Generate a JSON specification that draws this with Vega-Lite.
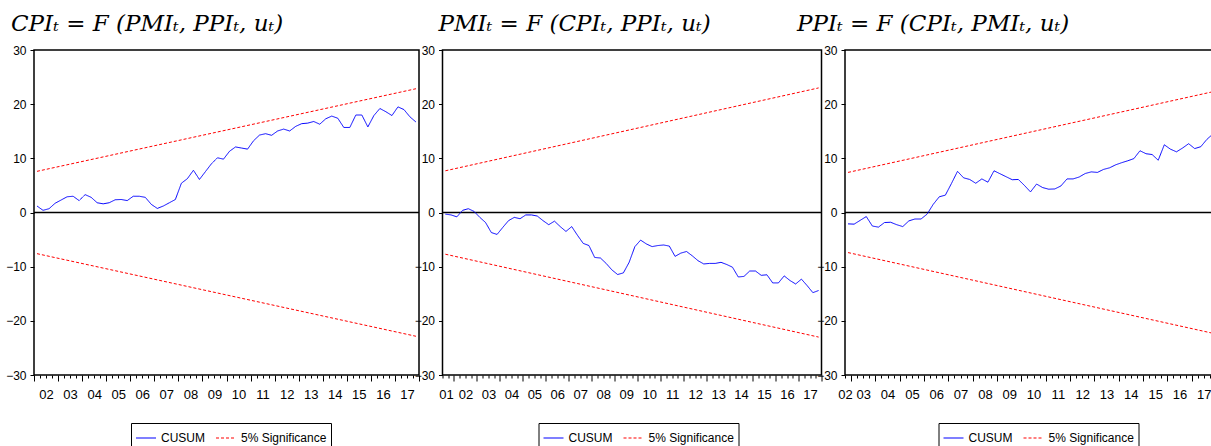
{
"$schema": "https://vega.github.io/schema/vega-lite/v6.json",
"padding": {"left": 4, "top": 12, "right": 0, "bottom": 0},
"bounds": "flush",
"spacing": 23.5,
"background": "white",
"config": {
  "view": {"stroke": "black", "strokeWidth": 1.5},
  "axis": {"grid": false, "domain": false, "tickColor": "black", "labelColor": "black", "labelFont": "Liberation Sans Narrow, Liberation Sans, Arial, sans-serif"},
  "axisY": {"tickSize": 4, "labelPadding": 4, "labelFontSize": 12},
  "axisX": {"labelFontSize": 13, "labelPadding": 10, "labelFlush": false, "labelOverlap": false},
  "legend": {"strokeColor": "black", "fillColor": "white", "padding": 4, "labelFontSize": 12, "labelFont": "Liberation Sans Narrow, Liberation Sans, Arial, sans-serif", "labelColor": "black", "symbolType": "stroke", "symbolSize": 400, "symbolStrokeWidth": 1.2, "labelOffset": 4, "columnPadding": 8},
  "title": {"anchor": "start", "frame": "group", "font": "DejaVu Serif", "fontStyle": "italic", "fontSize": 23, "fontWeight": "normal", "color": "black", "offset": 8}
},
"resolve": {"scale": {"x": "independent", "y": "independent", "color": "independent", "strokeDash": "independent"}, "legend": {"color": "independent", "strokeDash": "independent"}},
"hconcat": [
{
  "width": 385, "height": 325,
  "title": {"text": "CPIₜ = F (PMIₜ, PPIₜ, uₜ)", "dx": -23},
  "layer": [
    {"data": {"values": [{"z": 0}]}, "mark": {"type": "rule", "color": "black", "strokeWidth": 1.5},
     "encoding": {"y": {"field": "z", "type": "quantitative", "scale": {"domain": [-30, 30], "nice": false}, "axis": {"title": null, "values": [-30,-20,-10,0,10,20,30]}}}},
    {"data": {"values": [
      {"t":2002.125,"v":1.2,"s":"CUSUM","g":"c"},{"t":2002.375,"v":0.4,"s":"CUSUM","g":"c"},{"t":2002.625,"v":0.7,"s":"CUSUM","g":"c"},{"t":2002.875,"v":1.7,"s":"CUSUM","g":"c"},
      {"t":2003.125,"v":2.3,"s":"CUSUM","g":"c"},{"t":2003.375,"v":2.9,"s":"CUSUM","g":"c"},{"t":2003.625,"v":3.0,"s":"CUSUM","g":"c"},{"t":2003.875,"v":2.2,"s":"CUSUM","g":"c"},
      {"t":2004.125,"v":3.3,"s":"CUSUM","g":"c"},{"t":2004.375,"v":2.8,"s":"CUSUM","g":"c"},{"t":2004.625,"v":1.8,"s":"CUSUM","g":"c"},{"t":2004.875,"v":1.6,"s":"CUSUM","g":"c"},
      {"t":2005.125,"v":1.8,"s":"CUSUM","g":"c"},{"t":2005.375,"v":2.35,"s":"CUSUM","g":"c"},{"t":2005.625,"v":2.4,"s":"CUSUM","g":"c"},{"t":2005.875,"v":2.2,"s":"CUSUM","g":"c"},
      {"t":2006.125,"v":3.0,"s":"CUSUM","g":"c"},{"t":2006.375,"v":3.0,"s":"CUSUM","g":"c"},{"t":2006.625,"v":2.8,"s":"CUSUM","g":"c"},{"t":2006.875,"v":1.5,"s":"CUSUM","g":"c"},
      {"t":2007.125,"v":0.75,"s":"CUSUM","g":"c"},{"t":2007.375,"v":1.2,"s":"CUSUM","g":"c"},{"t":2007.625,"v":1.8,"s":"CUSUM","g":"c"},{"t":2007.875,"v":2.4,"s":"CUSUM","g":"c"},
      {"t":2008.125,"v":5.4,"s":"CUSUM","g":"c"},{"t":2008.375,"v":6.25,"s":"CUSUM","g":"c"},{"t":2008.625,"v":7.8,"s":"CUSUM","g":"c"},{"t":2008.875,"v":6.1,"s":"CUSUM","g":"c"},
      {"t":2009.125,"v":7.55,"s":"CUSUM","g":"c"},{"t":2009.375,"v":9.0,"s":"CUSUM","g":"c"},{"t":2009.625,"v":10.1,"s":"CUSUM","g":"c"},{"t":2009.875,"v":9.85,"s":"CUSUM","g":"c"},
      {"t":2010.125,"v":11.3,"s":"CUSUM","g":"c"},{"t":2010.375,"v":12.1,"s":"CUSUM","g":"c"},{"t":2010.625,"v":11.9,"s":"CUSUM","g":"c"},{"t":2010.875,"v":11.7,"s":"CUSUM","g":"c"},
      {"t":2011.125,"v":13.25,"s":"CUSUM","g":"c"},{"t":2011.375,"v":14.3,"s":"CUSUM","g":"c"},{"t":2011.625,"v":14.55,"s":"CUSUM","g":"c"},{"t":2011.875,"v":14.25,"s":"CUSUM","g":"c"},
      {"t":2012.125,"v":15.05,"s":"CUSUM","g":"c"},{"t":2012.375,"v":15.4,"s":"CUSUM","g":"c"},{"t":2012.625,"v":15.05,"s":"CUSUM","g":"c"},{"t":2012.875,"v":15.9,"s":"CUSUM","g":"c"},
      {"t":2013.125,"v":16.4,"s":"CUSUM","g":"c"},{"t":2013.375,"v":16.5,"s":"CUSUM","g":"c"},{"t":2013.625,"v":16.8,"s":"CUSUM","g":"c"},{"t":2013.875,"v":16.3,"s":"CUSUM","g":"c"},
      {"t":2014.125,"v":17.3,"s":"CUSUM","g":"c"},{"t":2014.375,"v":17.8,"s":"CUSUM","g":"c"},{"t":2014.625,"v":17.4,"s":"CUSUM","g":"c"},{"t":2014.875,"v":15.7,"s":"CUSUM","g":"c"},
      {"t":2015.125,"v":15.7,"s":"CUSUM","g":"c"},{"t":2015.375,"v":18.0,"s":"CUSUM","g":"c"},{"t":2015.625,"v":18.0,"s":"CUSUM","g":"c"},{"t":2015.875,"v":15.8,"s":"CUSUM","g":"c"},
      {"t":2016.125,"v":17.9,"s":"CUSUM","g":"c"},{"t":2016.375,"v":19.2,"s":"CUSUM","g":"c"},{"t":2016.625,"v":18.6,"s":"CUSUM","g":"c"},{"t":2016.875,"v":17.9,"s":"CUSUM","g":"c"},
      {"t":2017.125,"v":19.5,"s":"CUSUM","g":"c"},{"t":2017.375,"v":19.0,"s":"CUSUM","g":"c"},{"t":2017.625,"v":17.65,"s":"CUSUM","g":"c"},{"t":2017.875,"v":16.7,"s":"CUSUM","g":"c"},
      {"t":2002.125,"v":7.6,"s":"5% Significance","g":"u"},{"t":2017.875,"v":22.85,"s":"5% Significance","g":"u"},
      {"t":2002.125,"v":-7.6,"s":"5% Significance","g":"l"},{"t":2017.875,"v":-22.85,"s":"5% Significance","g":"l"}
    ]},
     "mark": {"type": "line", "strokeWidth": 1},
     "encoding": {
       "x": {"field": "t", "type": "quantitative", "scale": {"domain": [2002, 2018], "nice": false, "zero": false},
         "axis": {"title": null,
           "values": [2002,2002.25,2002.5,2002.75,2003,2003.25,2003.5,2003.75,2004,2004.25,2004.5,2004.75,2005,2005.25,2005.5,2005.75,2006,2006.25,2006.5,2006.75,2007,2007.25,2007.5,2007.75,2008,2008.25,2008.5,2008.75,2009,2009.25,2009.5,2009.75,2010,2010.25,2010.5,2010.75,2011,2011.25,2011.5,2011.75,2012,2012.25,2012.5,2012.75,2013,2013.25,2013.5,2013.75,2014,2014.25,2014.5,2014.75,2015,2015.25,2015.5,2015.75,2016,2016.25,2016.5,2016.75,2017,2017.25,2017.5,2017.75,2018],
           "labelExpr": "datum.value % 1 == 0.5 ? substring(toString(floor(datum.value)), 2, 4) : ''",
           "tickSize": {"condition": {"test": "datum.value % 1 == 0", "value": 6}, "value": 3}}},
       "y": {"field": "v", "type": "quantitative", "scale": {"domain": [-30, 30], "nice": false}, "axis": {"title": null, "values": [-30,-20,-10,0,10,20,30]}},
       "color": {"field": "s", "type": "nominal", "scale": {"domain": ["CUSUM", "5% Significance"], "range": ["#0000ff", "#ff0000"]}, "legend": {"title": null, "orient": "none", "legendX": 97, "legendY": 373, "direction": "horizontal"}},
       "strokeDash": {"field": "s", "type": "nominal", "scale": {"domain": ["CUSUM", "5% Significance"], "range": [[1, 0], [3, 2]]}, "legend": {"title": null, "orient": "none", "legendX": 97, "legendY": 373, "direction": "horizontal"}},
       "detail": {"field": "g"}
     }}
  ]
},
{
  "width": 379, "height": 325,
  "title": {"text": "PMIₜ = F (CPIₜ, PPIₜ, uₜ)", "dx": -4},
  "layer": [
    {"data": {"values": [{"z": 0}]}, "mark": {"type": "rule", "color": "black", "strokeWidth": 1.5},
     "encoding": {"y": {"field": "z", "type": "quantitative", "scale": {"domain": [-30, 30], "nice": false}, "axis": {"title": null, "values": [-30,-20,-10,0,10,20,30]}}}},
    {"data": {"values": [
      {"t":2001.625,"v":-0.3,"s":"CUSUM","g":"c"},{"t":2001.875,"v":-0.45,"s":"CUSUM","g":"c"},
      {"t":2002.125,"v":-0.8,"s":"CUSUM","g":"c"},{"t":2002.375,"v":0.4,"s":"CUSUM","g":"c"},{"t":2002.625,"v":0.7,"s":"CUSUM","g":"c"},{"t":2002.875,"v":0.2,"s":"CUSUM","g":"c"},
      {"t":2003.125,"v":-0.9,"s":"CUSUM","g":"c"},{"t":2003.375,"v":-1.85,"s":"CUSUM","g":"c"},{"t":2003.625,"v":-3.7,"s":"CUSUM","g":"c"},{"t":2003.875,"v":-4.05,"s":"CUSUM","g":"c"},
      {"t":2004.125,"v":-2.75,"s":"CUSUM","g":"c"},{"t":2004.375,"v":-1.5,"s":"CUSUM","g":"c"},{"t":2004.625,"v":-0.9,"s":"CUSUM","g":"c"},{"t":2004.875,"v":-1.15,"s":"CUSUM","g":"c"},
      {"t":2005.125,"v":-0.45,"s":"CUSUM","g":"c"},{"t":2005.375,"v":-0.45,"s":"CUSUM","g":"c"},{"t":2005.625,"v":-0.65,"s":"CUSUM","g":"c"},{"t":2005.875,"v":-1.5,"s":"CUSUM","g":"c"},
      {"t":2006.125,"v":-2.25,"s":"CUSUM","g":"c"},{"t":2006.375,"v":-1.6,"s":"CUSUM","g":"c"},{"t":2006.625,"v":-2.6,"s":"CUSUM","g":"c"},{"t":2006.875,"v":-3.5,"s":"CUSUM","g":"c"},
      {"t":2007.125,"v":-2.6,"s":"CUSUM","g":"c"},{"t":2007.375,"v":-4.2,"s":"CUSUM","g":"c"},{"t":2007.625,"v":-5.7,"s":"CUSUM","g":"c"},{"t":2007.875,"v":-6.1,"s":"CUSUM","g":"c"},
      {"t":2008.125,"v":-8.3,"s":"CUSUM","g":"c"},{"t":2008.375,"v":-8.4,"s":"CUSUM","g":"c"},{"t":2008.625,"v":-9.4,"s":"CUSUM","g":"c"},{"t":2008.875,"v":-10.6,"s":"CUSUM","g":"c"},
      {"t":2009.125,"v":-11.45,"s":"CUSUM","g":"c"},{"t":2009.375,"v":-11.15,"s":"CUSUM","g":"c"},{"t":2009.625,"v":-9.2,"s":"CUSUM","g":"c"},{"t":2009.875,"v":-6.3,"s":"CUSUM","g":"c"},
      {"t":2010.125,"v":-5.1,"s":"CUSUM","g":"c"},{"t":2010.375,"v":-5.8,"s":"CUSUM","g":"c"},{"t":2010.625,"v":-6.3,"s":"CUSUM","g":"c"},{"t":2010.875,"v":-6.1,"s":"CUSUM","g":"c"},
      {"t":2011.125,"v":-6.0,"s":"CUSUM","g":"c"},{"t":2011.375,"v":-6.2,"s":"CUSUM","g":"c"},{"t":2011.625,"v":-8.1,"s":"CUSUM","g":"c"},{"t":2011.875,"v":-7.5,"s":"CUSUM","g":"c"},
      {"t":2012.125,"v":-7.2,"s":"CUSUM","g":"c"},{"t":2012.375,"v":-8.0,"s":"CUSUM","g":"c"},{"t":2012.625,"v":-8.9,"s":"CUSUM","g":"c"},{"t":2012.875,"v":-9.5,"s":"CUSUM","g":"c"},
      {"t":2013.125,"v":-9.4,"s":"CUSUM","g":"c"},{"t":2013.375,"v":-9.4,"s":"CUSUM","g":"c"},{"t":2013.625,"v":-9.2,"s":"CUSUM","g":"c"},{"t":2013.875,"v":-9.6,"s":"CUSUM","g":"c"},
      {"t":2014.125,"v":-10.1,"s":"CUSUM","g":"c"},{"t":2014.375,"v":-11.9,"s":"CUSUM","g":"c"},{"t":2014.625,"v":-11.8,"s":"CUSUM","g":"c"},{"t":2014.875,"v":-10.8,"s":"CUSUM","g":"c"},
      {"t":2015.125,"v":-10.8,"s":"CUSUM","g":"c"},{"t":2015.375,"v":-11.6,"s":"CUSUM","g":"c"},{"t":2015.625,"v":-11.5,"s":"CUSUM","g":"c"},{"t":2015.875,"v":-13.0,"s":"CUSUM","g":"c"},
      {"t":2016.125,"v":-13.0,"s":"CUSUM","g":"c"},{"t":2016.375,"v":-11.7,"s":"CUSUM","g":"c"},{"t":2016.625,"v":-12.55,"s":"CUSUM","g":"c"},{"t":2016.875,"v":-13.2,"s":"CUSUM","g":"c"},
      {"t":2017.125,"v":-12.3,"s":"CUSUM","g":"c"},{"t":2017.375,"v":-13.5,"s":"CUSUM","g":"c"},{"t":2017.625,"v":-14.8,"s":"CUSUM","g":"c"},{"t":2017.875,"v":-14.4,"s":"CUSUM","g":"c"},
      {"t":2001.625,"v":7.7,"s":"5% Significance","g":"u"},{"t":2017.875,"v":23.0,"s":"5% Significance","g":"u"},
      {"t":2001.625,"v":-7.7,"s":"5% Significance","g":"l"},{"t":2017.875,"v":-23.0,"s":"5% Significance","g":"l"}
    ]},
     "mark": {"type": "line", "strokeWidth": 1},
     "encoding": {
       "x": {"field": "t", "type": "quantitative", "scale": {"domain": [2001.5, 2018], "nice": false, "zero": false},
         "axis": {"title": null,
           "values": [2001.5,2001.65,2001.75,2002,2002.25,2002.5,2002.75,2003,2003.25,2003.5,2003.75,2004,2004.25,2004.5,2004.75,2005,2005.25,2005.5,2005.75,2006,2006.25,2006.5,2006.75,2007,2007.25,2007.5,2007.75,2008,2008.25,2008.5,2008.75,2009,2009.25,2009.5,2009.75,2010,2010.25,2010.5,2010.75,2011,2011.25,2011.5,2011.75,2012,2012.25,2012.5,2012.75,2013,2013.25,2013.5,2013.75,2014,2014.25,2014.5,2014.75,2015,2015.25,2015.5,2015.75,2016,2016.25,2016.5,2016.75,2017,2017.25,2017.5,2017.75,2018],
           "labelExpr": "((datum.value >= 2002 && datum.value % 1 == 0.5) || datum.value == 2001.65) ? substring(toString(floor(datum.value)), 2, 4) : ''",
           "tickOpacity": {"condition": {"test": "datum.value % 0.25 != 0", "value": 0}, "value": 1},
           "tickSize": {"condition": {"test": "datum.value % 1 == 0", "value": 6}, "value": 3}}},
       "y": {"field": "v", "type": "quantitative", "scale": {"domain": [-30, 30], "nice": false}, "axis": {"title": null, "values": [-30,-20,-10,0,10,20,30]}},
       "color": {"field": "s", "type": "nominal", "scale": {"domain": ["CUSUM", "5% Significance"], "range": ["#0000ff", "#ff0000"]}, "legend": {"title": null, "orient": "none", "legendX": 96, "legendY": 373, "direction": "horizontal"}},
       "strokeDash": {"field": "s", "type": "nominal", "scale": {"domain": ["CUSUM", "5% Significance"], "range": [[1, 0], [3, 2]]}, "legend": {"title": null, "orient": "none", "legendX": 96, "legendY": 373, "direction": "horizontal"}},
       "detail": {"field": "g"}
     }}
  ]
},
{
  "width": 371, "height": 325,
  "title": {"text": "PPIₜ = F (CPIₜ, PMIₜ, uₜ)", "dx": -48},
  "layer": [
    {"data": {"values": [{"z": 0}]}, "mark": {"type": "rule", "color": "black", "strokeWidth": 1.5},
     "encoding": {"y": {"field": "z", "type": "quantitative", "scale": {"domain": [-30, 30], "nice": false}, "axis": {"title": null, "values": [-30,-20,-10,0,10,20,30]}}}},
    {"data": {"values": [
      {"t":2002.875,"v":-2.1,"s":"CUSUM","g":"c"},
      {"t":2003.125,"v":-2.15,"s":"CUSUM","g":"c"},{"t":2003.375,"v":-1.45,"s":"CUSUM","g":"c"},{"t":2003.625,"v":-0.75,"s":"CUSUM","g":"c"},{"t":2003.875,"v":-2.5,"s":"CUSUM","g":"c"},
      {"t":2004.125,"v":-2.7,"s":"CUSUM","g":"c"},{"t":2004.375,"v":-1.85,"s":"CUSUM","g":"c"},{"t":2004.625,"v":-1.8,"s":"CUSUM","g":"c"},{"t":2004.875,"v":-2.25,"s":"CUSUM","g":"c"},
      {"t":2005.125,"v":-2.6,"s":"CUSUM","g":"c"},{"t":2005.375,"v":-1.55,"s":"CUSUM","g":"c"},{"t":2005.625,"v":-1.2,"s":"CUSUM","g":"c"},{"t":2005.875,"v":-1.2,"s":"CUSUM","g":"c"},
      {"t":2006.125,"v":-0.3,"s":"CUSUM","g":"c"},{"t":2006.375,"v":1.5,"s":"CUSUM","g":"c"},{"t":2006.625,"v":2.9,"s":"CUSUM","g":"c"},{"t":2006.875,"v":3.2,"s":"CUSUM","g":"c"},
      {"t":2007.125,"v":5.35,"s":"CUSUM","g":"c"},{"t":2007.375,"v":7.6,"s":"CUSUM","g":"c"},{"t":2007.625,"v":6.4,"s":"CUSUM","g":"c"},{"t":2007.875,"v":6.1,"s":"CUSUM","g":"c"},
      {"t":2008.125,"v":5.4,"s":"CUSUM","g":"c"},{"t":2008.375,"v":6.2,"s":"CUSUM","g":"c"},{"t":2008.625,"v":5.6,"s":"CUSUM","g":"c"},{"t":2008.875,"v":7.7,"s":"CUSUM","g":"c"},
      {"t":2009.125,"v":7.15,"s":"CUSUM","g":"c"},{"t":2009.375,"v":6.6,"s":"CUSUM","g":"c"},{"t":2009.625,"v":6.05,"s":"CUSUM","g":"c"},{"t":2009.875,"v":6.1,"s":"CUSUM","g":"c"},
      {"t":2010.125,"v":5.0,"s":"CUSUM","g":"c"},{"t":2010.375,"v":3.8,"s":"CUSUM","g":"c"},{"t":2010.625,"v":5.25,"s":"CUSUM","g":"c"},{"t":2010.875,"v":4.6,"s":"CUSUM","g":"c"},
      {"t":2011.125,"v":4.3,"s":"CUSUM","g":"c"},{"t":2011.375,"v":4.35,"s":"CUSUM","g":"c"},{"t":2011.625,"v":4.9,"s":"CUSUM","g":"c"},{"t":2011.875,"v":6.2,"s":"CUSUM","g":"c"},
      {"t":2012.125,"v":6.2,"s":"CUSUM","g":"c"},{"t":2012.375,"v":6.55,"s":"CUSUM","g":"c"},{"t":2012.625,"v":7.2,"s":"CUSUM","g":"c"},{"t":2012.875,"v":7.5,"s":"CUSUM","g":"c"},
      {"t":2013.125,"v":7.4,"s":"CUSUM","g":"c"},{"t":2013.375,"v":7.95,"s":"CUSUM","g":"c"},{"t":2013.625,"v":8.25,"s":"CUSUM","g":"c"},{"t":2013.875,"v":8.8,"s":"CUSUM","g":"c"},
      {"t":2014.125,"v":9.2,"s":"CUSUM","g":"c"},{"t":2014.375,"v":9.55,"s":"CUSUM","g":"c"},{"t":2014.625,"v":9.95,"s":"CUSUM","g":"c"},{"t":2014.875,"v":11.4,"s":"CUSUM","g":"c"},
      {"t":2015.125,"v":10.85,"s":"CUSUM","g":"c"},{"t":2015.375,"v":10.7,"s":"CUSUM","g":"c"},{"t":2015.625,"v":9.65,"s":"CUSUM","g":"c"},{"t":2015.875,"v":12.5,"s":"CUSUM","g":"c"},
      {"t":2016.125,"v":11.7,"s":"CUSUM","g":"c"},{"t":2016.375,"v":11.2,"s":"CUSUM","g":"c"},{"t":2016.625,"v":11.9,"s":"CUSUM","g":"c"},{"t":2016.875,"v":12.7,"s":"CUSUM","g":"c"},
      {"t":2017.125,"v":11.8,"s":"CUSUM","g":"c"},{"t":2017.375,"v":12.15,"s":"CUSUM","g":"c"},{"t":2017.625,"v":13.5,"s":"CUSUM","g":"c"},{"t":2017.875,"v":14.5,"s":"CUSUM","g":"c"},
      {"t":2002.875,"v":7.4,"s":"5% Significance","g":"u"},{"t":2017.875,"v":22.3,"s":"5% Significance","g":"u"},
      {"t":2002.875,"v":-7.4,"s":"5% Significance","g":"l"},{"t":2017.875,"v":-22.3,"s":"5% Significance","g":"l"}
    ]},
     "mark": {"type": "line", "strokeWidth": 1},
     "encoding": {
       "x": {"field": "t", "type": "quantitative", "scale": {"domain": [2002.75, 2018], "nice": false, "zero": false},
         "axis": {"title": null,
           "values": [2002.75,2003,2003.25,2003.5,2003.75,2004,2004.25,2004.5,2004.75,2005,2005.25,2005.5,2005.75,2006,2006.25,2006.5,2006.75,2007,2007.25,2007.5,2007.75,2008,2008.25,2008.5,2008.75,2009,2009.25,2009.5,2009.75,2010,2010.25,2010.5,2010.75,2011,2011.25,2011.5,2011.75,2012,2012.25,2012.5,2012.75,2013,2013.25,2013.5,2013.75,2014,2014.25,2014.5,2014.75,2015,2015.25,2015.5,2015.75,2016,2016.25,2016.5,2016.75,2017,2017.25,2017.5,2017.75,2018],
           "labelExpr": "((datum.value >= 2003 && datum.value % 1 == 0.5) || datum.value == 2002.75) ? substring(toString(floor(datum.value)), 2, 4) : ''",
           "tickSize": {"condition": {"test": "datum.value % 1 == 0", "value": 6}, "value": 3}}},
       "y": {"field": "v", "type": "quantitative", "scale": {"domain": [-30, 30], "nice": false}, "axis": {"title": null, "values": [-30,-20,-10,0,10,20,30]}},
       "color": {"field": "s", "type": "nominal", "scale": {"domain": ["CUSUM", "5% Significance"], "range": ["#0000ff", "#ff0000"]}, "legend": {"title": null, "orient": "none", "legendX": 93.5, "legendY": 373, "direction": "horizontal"}},
       "strokeDash": {"field": "s", "type": "nominal", "scale": {"domain": ["CUSUM", "5% Significance"], "range": [[1, 0], [3, 2]]}, "legend": {"title": null, "orient": "none", "legendX": 93.5, "legendY": 373, "direction": "horizontal"}},
       "detail": {"field": "g"}
     }}
  ]
}
]
}
